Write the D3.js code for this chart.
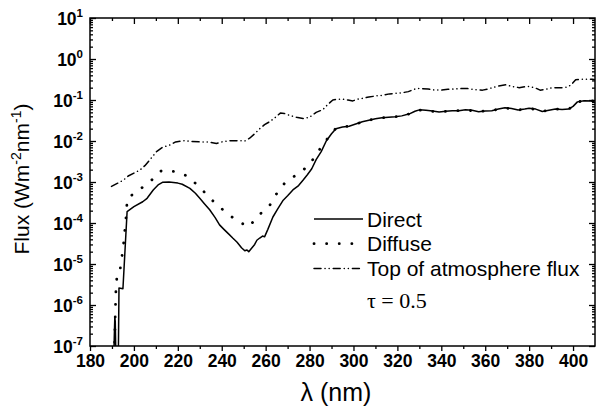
<!DOCTYPE html>
<html>
<head>
<meta charset="utf-8">
<script src="https://cdn.jsdelivr.net/npm/d3@7"></script>
<style>
  body { margin: 0; background: #fff; }
  svg { display: block; font-family: Arial, "Liberation Sans", sans-serif; }
</style>
</head>
<body>
<div id="chart"></div>
<script>
// wavelength (nm) and flux (W m-2 nm-1)
const directWl = [190.8, 191.3, 191.5, 191.8, 192.9, 193.2, 195.0, 196.9, 200, 204, 206, 208.8, 211, 213, 216, 220, 222, 225.5, 228, 230, 232, 234.5, 237, 239, 241, 243, 245, 247, 249, 250.5, 251.5, 252.3, 253.5, 255, 256, 257.3, 258.6, 259.5, 261, 263.3, 265.5, 268, 270, 272.4, 275, 277, 279, 281, 283, 285.3, 287.6, 290, 292, 295, 298, 301, 304, 307, 310, 313, 316, 319, 322, 325.5, 328, 330, 333, 336, 339, 342, 345, 348, 351, 354, 357, 360, 363, 366, 369, 372, 375, 378, 380, 383, 386, 389, 392, 395, 398, 400, 402, 405, 410];
const directFlux = [5e-8, 5e-7, 4e-7, 5e-8, 5e-8, 2.6e-6, 2.5e-6, 1.9e-4, 2.5e-4, 3.3e-4, 4.0e-4, 6.4e-4, 8.5e-4, 9.8e-4, 1.0e-3, 9.4e-4, 8.8e-4, 7.0e-4, 5.3e-4, 4.0e-4, 3.0e-4, 2.1e-4, 1.35e-4, 9.0e-5, 7.0e-5, 5.5e-5, 4.3e-5, 3.4e-5, 2.5e-5, 2.1e-5, 2.2e-5, 2.0e-5, 2.4e-5, 3.0e-5, 3.8e-5, 4.3e-5, 4.8e-5, 4.6e-5, 7.0e-5, 1.4e-4, 2.2e-4, 3.6e-4, 4.6e-4, 6.4e-4, 8.2e-4, 1.1e-3, 1.5e-3, 2.1e-3, 3.5e-3, 5.5e-3, 1.0e-2, 1.5e-2, 2.0e-2, 2.2e-2, 2.3e-2, 2.6e-2, 2.95e-2, 3.2e-2, 3.5e-2, 3.7e-2, 3.8e-2, 3.9e-2, 4.1e-2, 4.6e-2, 5.3e-2, 5.75e-2, 5.6e-2, 5.4e-2, 5.1e-2, 5.3e-2, 5.5e-2, 5.5e-2, 5.75e-2, 5.6e-2, 5.2e-2, 5.4e-2, 5.5e-2, 6.0e-2, 6.5e-2, 6.2e-2, 5.7e-2, 6.0e-2, 6.3e-2, 6.0e-2, 5.25e-2, 5.6e-2, 6.0e-2, 5.9e-2, 6.0e-2, 7.0e-2, 9.0e-2, 9.6e-2, 9.5e-2];

const diffuseWl = [191.0, 191.5, 191.8, 192.2, 193.6, 194.0, 195.1, 195.5, 196.2, 197.0, 202, 207.6, 212.6, 218.6, 224.4, 230, 235.6, 241, 246.7, 252.3, 256.8, 261.5, 264.9, 268.6, 274, 279.7, 283.3, 287.6, 292, 295, 298, 301, 304, 307, 310, 313, 316, 319, 322, 325.5, 328, 330, 333, 336, 339, 342, 345, 348, 351, 354, 357, 360, 363, 366, 369, 372, 375, 378, 380, 383, 386, 389, 392, 395, 398, 400, 402, 405, 410];
const diffuseFlux = [3e-8, 6e-7, 2.2e-6, 4.5e-6, 5.4e-6, 1.1e-5, 2.2e-5, 4.5e-5, 9.5e-5, 4.0e-4, 6.2e-4, 1.05e-3, 1.9e-3, 1.8e-3, 1.4e-3, 7.4e-4, 3.6e-4, 2.0e-4, 1.15e-4, 8.0e-5, 1.55e-4, 2.5e-4, 5.1e-4, 9.3e-4, 1.5e-3, 2.5e-3, 5.0e-3, 1.05e-2, 2.05e-2, 2.2e-2, 2.3e-2, 2.6e-2, 2.9e-2, 3.2e-2, 3.5e-2, 3.7e-2, 3.8e-2, 3.9e-2, 4.1e-2, 4.6e-2, 5.3e-2, 5.7e-2, 5.5e-2, 5.3e-2, 5.1e-2, 5.3e-2, 5.5e-2, 5.5e-2, 5.7e-2, 5.5e-2, 5.2e-2, 5.4e-2, 5.5e-2, 6.0e-2, 6.4e-2, 6.1e-2, 5.7e-2, 6.0e-2, 6.2e-2, 5.9e-2, 5.3e-2, 5.6e-2, 6.0e-2, 5.9e-2, 6.0e-2, 7.0e-2, 9.0e-2, 9.5e-2, 9.5e-2];

const toaWl = [189.8, 195.1, 197.4, 202.7, 205, 207.3, 210.3, 213, 216.4, 219, 222.4, 226, 230, 234, 237.6, 240, 243.6, 247, 250.5, 252.7, 255, 257.3, 259.5, 261.8, 264, 266.7, 268.5, 271, 274, 277, 280, 283, 286, 288, 290.6, 293, 295, 297.5, 299.7, 302, 304.2, 307, 310.3, 313, 316.4, 319, 322.4, 325, 328.5, 331, 334, 337, 340, 343, 346, 349, 352, 355, 358.8, 361, 363.3, 366, 369.4, 372, 375.5, 378, 380, 383, 385, 388, 390.6, 394, 397, 399, 401.2, 404, 408.8, 410];
const toaFlux = [7.8e-4, 1.1e-3, 1.4e-3, 1.95e-3, 2.5e-3, 3.5e-3, 5.5e-3, 7.0e-3, 8.0e-3, 9.5e-3, 1.02e-2, 9.8e-3, 9.5e-3, 9.5e-3, 8.7e-3, 9.5e-3, 1.02e-2, 1.02e-2, 1.0e-2, 1.17e-2, 1.5e-2, 2.0e-2, 2.5e-2, 2.95e-2, 3.6e-2, 4.8e-2, 4.7e-2, 4.2e-2, 3.8e-2, 3.55e-2, 3.8e-2, 5.0e-2, 5.8e-2, 7.5e-2, 1.0e-1, 1.05e-1, 1.05e-1, 1.0e-1, 9.5e-2, 1.05e-1, 1.1e-1, 1.18e-1, 1.26e-1, 1.3e-1, 1.41e-1, 1.45e-1, 1.51e-1, 1.6e-1, 1.9e-1, 1.9e-1, 1.85e-1, 1.75e-1, 1.74e-1, 1.82e-1, 1.85e-1, 1.9e-1, 1.9e-1, 1.8e-1, 1.74e-1, 1.85e-1, 2.0e-1, 2.2e-1, 2.35e-1, 2.15e-1, 2.0e-1, 2.1e-1, 2.14e-1, 1.95e-1, 1.74e-1, 1.85e-1, 2.0e-1, 1.98e-1, 2.05e-1, 2.3e-1, 3.1e-1, 3.2e-1, 3.2e-1, 3.1e-1];

const xMajor = [180, 200, 220, 240, 260, 280, 300, 320, 340, 360, 380, 400];
const xMinor = [190, 210, 230, 250, 270, 290, 310, 330, 350, 370, 390];
const yExponents = [1, 0, -1, -2, -3, -4, -5, -6, -7];
const legendLabels = ["Direct", "Diffuse", "Top of atmosphere flux"];

const W = 598, H = 409;
const mLeft = 90, mRight = 595, mTop = 18, mBottom = 346;

const svg = d3.select('#chart').append('svg').attr('width', W).attr('height', H);

const x = d3.scaleLinear().domain([180, 410]).range([mLeft, mRight]);
const y = d3.scaleLog().domain([1e-7, 1e1]).range([mBottom, mTop]);

const yMajor = yExponents.map(e => Math.pow(10, e));
let yMinor = [];
for (let e = -7; e < 1; e++) {
    for (let k = 2; k <= 9; k++) yMinor.push(k * Math.pow(10, e));
}

function styleAxis(g) {
    g.select('.domain').remove();
    g.selectAll('line').attr('stroke', '#000').attr('stroke-width', 1.3);
}

// bottom axis, ticks outward
svg.append('g').attr('transform', 'translate(0,' + mBottom + ')')
    .call(d3.axisBottom(x).tickValues(xMinor).tickSize(3).tickFormat(''))
    .call(styleAxis);
svg.append('g').attr('transform', 'translate(0,' + mBottom + ')')
    .call(d3.axisBottom(x).tickValues(xMajor).tickSize(5).tickPadding(4).tickFormat(d3.format('d')))
    .call(styleAxis)
    .call(g => g.selectAll('text').attr('font-size', 17.5).attr('font-weight', 'bold')
        .attr('fill', '#000').attr('font-family', 'Arial, "Liberation Sans", sans-serif'));

// top axis, ticks inward
svg.append('g').attr('transform', 'translate(0,' + mTop + ')')
    .call(d3.axisTop(x).tickValues(xMinor).tickSize(-3).tickFormat(''))
    .call(styleAxis);
svg.append('g').attr('transform', 'translate(0,' + mTop + ')')
    .call(d3.axisTop(x).tickValues(xMajor).tickSize(-6).tickFormat(''))
    .call(styleAxis);

// left and right axes, ticks inward
svg.append('g').attr('transform', 'translate(' + mLeft + ',0)')
    .call(d3.axisLeft(y).tickValues(yMinor).tickSize(-3).tickFormat(''))
    .call(styleAxis);
svg.append('g').attr('transform', 'translate(' + mLeft + ',0)')
    .call(d3.axisLeft(y).tickValues(yMajor).tickSize(-6).tickFormat(''))
    .call(styleAxis);
svg.append('g').attr('transform', 'translate(' + mRight + ',0)')
    .call(d3.axisRight(y).tickValues(yMinor).tickSize(-3).tickFormat(''))
    .call(styleAxis);
svg.append('g').attr('transform', 'translate(' + mRight + ',0)')
    .call(d3.axisRight(y).tickValues(yMajor).tickSize(-6).tickFormat(''))
    .call(styleAxis);

// y tick labels 10^n
const yLab = svg.append('g').attr('font-weight', 'bold').attr('fill', '#000');
yExponents.forEach(function (e) {
    const t = yLab.append('text')
        .attr('x', 83)
        .attr('y', y(Math.pow(10, e)) + 6.5)
        .attr('text-anchor', 'end')
        .attr('font-size', 17.5);
    t.append('tspan').text('10');
    t.append('tspan').attr('dy', -8).attr('font-size', 11.5).text(String(e));
});

// frame
svg.append('rect')
    .attr('x', mLeft).attr('y', mTop)
    .attr('width', mRight - mLeft).attr('height', mBottom - mTop)
    .attr('fill', 'none').attr('stroke', '#000').attr('stroke-width', 1.5);

svg.append('clipPath').attr('id', 'plot-clip')
    .append('rect').attr('x', mLeft).attr('y', mTop)
    .attr('width', mRight - mLeft).attr('height', mBottom - mTop);

const line = d3.line().x(d => x(d[0])).y(d => y(d[1]));

const series = [
    {wl: directWl, flux: directFlux, dash: null, width: 1.5},
    {wl: diffuseWl, flux: diffuseFlux, dash: '0.1 12.5', width: 2.8},
    {wl: toaWl, flux: toaFlux, dash: '7 4 0.1 4 0.1 4', width: 1.5}
];

const plot = svg.append('g').attr('clip-path', 'url(#plot-clip)');
series.forEach(function (s) {
    plot.append('path')
        .datum(d3.zip(s.wl, s.flux))
        .attr('d', line)
        .attr('fill', 'none')
        .attr('stroke', '#000')
        .attr('stroke-width', s.width)
        .attr('stroke-linecap', s.dash ? 'round' : 'butt')
        .attr('stroke-linejoin', 'round')
        .attr('stroke-dasharray', s.dash);
});

// legend
const legend = svg.append('g');
legendLabels.forEach(function (lab, i) {
    const ly = 219 + i * 24.7;
    const s = series[i];
    legend.append('line')
        .attr('x1', 314).attr('x2', 363)
        .attr('y1', ly).attr('y2', ly)
        .attr('stroke', '#000')
        .attr('stroke-width', s.width)
        .attr('stroke-linecap', s.dash ? 'round' : 'butt')
        .attr('stroke-dasharray', s.dash);
    legend.append('text')
        .attr('x', 367).attr('y', ly + 7.5)
        .attr('font-size', 21)
        .attr('fill', '#000')
        .text(lab);
});

svg.append('text')
    .attr('x', 367).attr('y', 308)
    .attr('font-family', '"Liberation Serif", "Times New Roman", serif')
    .attr('font-size', 22)
    .attr('fill', '#000')
    .text('\u03C4 = 0.5');

// axis titles
svg.append('text')
    .attr('x', 336).attr('y', 401)
    .attr('text-anchor', 'middle')
    .attr('font-size', 25)
    .attr('fill', '#000')
    .text('\u03BB (nm)');

const yt = svg.append('text')
    .attr('transform', 'translate(29,179) rotate(-90)')
    .attr('text-anchor', 'middle')
    .attr('font-size', 21)
    .attr('fill', '#000');
yt.append('tspan').text('Flux (Wm');
yt.append('tspan').attr('dy', -8).attr('font-size', 14).text('-2');
yt.append('tspan').attr('dy', 8).text('nm');
yt.append('tspan').attr('dy', -8).attr('font-size', 14).text('-1');
yt.append('tspan').attr('dy', 8).text(')');
</script>
</body>
</html>
